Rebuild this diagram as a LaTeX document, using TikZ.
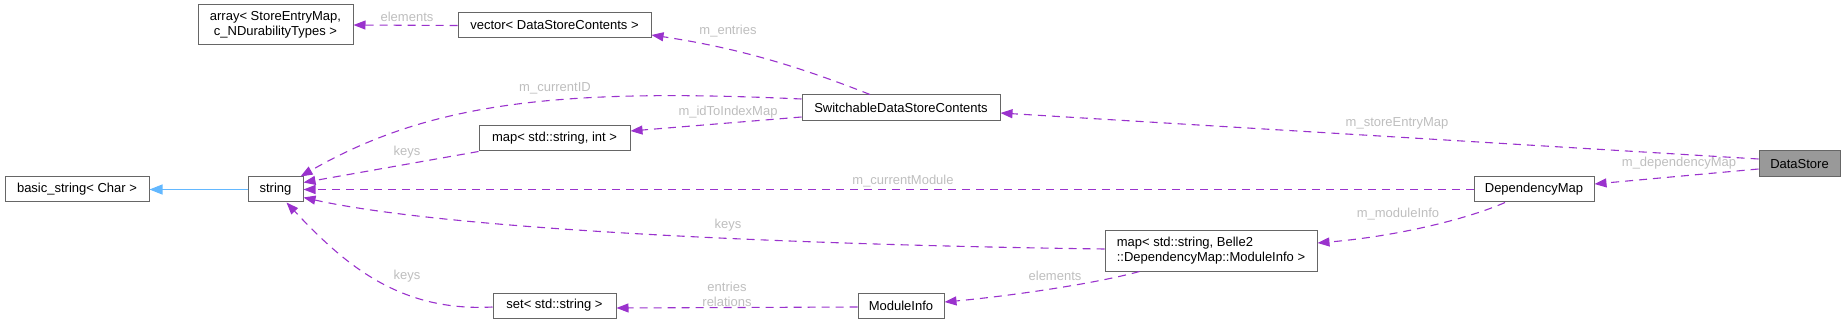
\documentclass[tikz,border=0pt]{standalone}
\usepackage{fontspec}
\setmainfont{Liberation Sans}
\usetikzlibrary{arrows.meta,calc}
\definecolor{edgepurple}{HTML}{9A32CD}
\definecolor{edgeblue}{HTML}{63B8FF}
\definecolor{boxborder}{HTML}{666666}
\definecolor{labelgrey}{HTML}{BEBEBE}
\definecolor{focusfill}{HTML}{999999}
\begin{document}
\begin{tikzpicture}[x=1pt,y=-1pt,
  font=\fontsize{13}{15}\selectfont,
  box/.style={draw=boxborder, line width=1pt, fill=white, inner sep=0pt, minimum height=25pt},
  usage/.style={draw=edgepurple, line width=1.1pt, dash pattern=on 8pt off 6pt,
    -{Triangle[length=12pt,width=9pt,fill=edgepurple]}},
  inherit/.style={draw=edgeblue, line width=1.1pt, -{Triangle[length=13pt,width=10pt,fill=edgeblue]}},
  elabel/.style={text=labelgrey, inner sep=0pt, align=center}]
\useasboundingbox (0,0) rectangle (1845,323);

% nodes
\node[box, minimum width=155pt, minimum height=40pt, align=center] (array) at (275.5,25) {array< StoreEntryMap,\\c\_NDurabilityTypes >};
\node[box, minimum width=193pt] (vector) at (554.5,25.5) {vector< DataStoreContents >};
\node[box, minimum width=198pt, minimum height=26pt] (switchable) at (901,108) {SwitchableDataStoreContents};
\node[box, minimum width=151pt] (mapint) at (554.5,138.5) {map< std::string, int >};
\node[box, minimum width=144pt] (basic) at (77,189.5) {basic\_string< Char >};
\node[box, minimum width=55pt] (string) at (275.5,189.5) {string};
\node[box, minimum width=120pt] (depmap) at (1534,189.5) {DependencyMap};
\node[box, fill=focusfill, minimum width=81pt, minimum height=26pt] (datastore) at (1799.5,164) {DataStore};
\node[box, minimum width=212pt, minimum height=40pt, align=left] (mapb2) at (1211,251) {map< std::string, Belle2\\::DependencyMap::ModuleInfo >};
\node[box, minimum width=123pt] (set) at (554.5,305.5) {set< std::string >};
\node[box, minimum width=86pt] (modinfo) at (901,305.5) {ModuleInfo};

% edges
\draw[inherit] (string.west) -- (basic.east);

\draw[usage] (vector.west) -- (array.east);
\node[elabel] (lelements1) at (407,17) {elements};

\draw[usage] ($(switchable.north)+(-31,0)$) .. controls (790,63) and (731,47) .. ($(vector.east)+(0,9.5)$);
\node[elabel] (lentries) at (728,31) {m\_entries};

\draw[usage] ($(switchable.west)+(0,-9)$) .. controls (560,88) and (430,102) .. ($(string.north east)+(-3,0)$);
\node[elabel] (lcurrentid) at (555,88) {m\_currentID};

\draw[usage] ($(switchable.west)+(0,9)$) -- ($(mapint.east)+(0,-7.5)$);
\node[elabel] (lidtoindex) at (728,112) {m\_idToIndexMap};

\draw[usage] (mapint.south west) -- ($(string.east)+(0,-7)$);
\node[elabel] (lkeys1) at (407,152) {keys};

\draw[usage] (depmap.west) -- (string.east);
\node[elabel] (lcurmod) at (903,181) {m\_currentModule};

\draw[usage] ($(mapb2.west)+(0,-2)$) .. controls (800,245) and (450,230) .. ($(string.east)+(0,8)$);
\node[elabel] (lkeys2) at (728,225) {keys};

\draw[usage] ($(set.west)+(0,1.5)$) .. controls (400,312) and (345,265) .. ($(string.south)+(11,0)$);
\node[elabel] (lkeys3) at (407,276) {keys};

\draw[usage] ($(modinfo.west)+(0,1.5)$) -- ($(set.east)+(0,2.5)$);
\node[elabel] (lentrel) at (727,294) {entries\\relations};

\draw[usage] ($(mapb2.south west)+(35,0)$) .. controls (1090,285) and (1000,297) .. ($(modinfo.east)+(0,-3.5)$);
\node[elabel] (lelements2) at (1055,276) {elements};

\draw[usage] ($(depmap.south)+(-29,0)$) .. controls (1470,218) and (1400,236) .. ($(mapb2.east)+(0,-8)$);
\node[elabel] (lmodinfo) at (1398,214) {m\_moduleInfo};

\draw[usage] ($(datastore.west)+(0,-5)$) -- ($(switchable.east)+(0,5)$);
\node[elabel] (lstore) at (1397,123) {m\_storeEntryMap};

\draw[usage] ($(datastore.west)+(0,5)$) -- ($(depmap.east)+(0,-5.5)$);
\node[elabel] (ldep) at (1679,163) {m\_dependencyMap};
\end{tikzpicture}
\end{document}
